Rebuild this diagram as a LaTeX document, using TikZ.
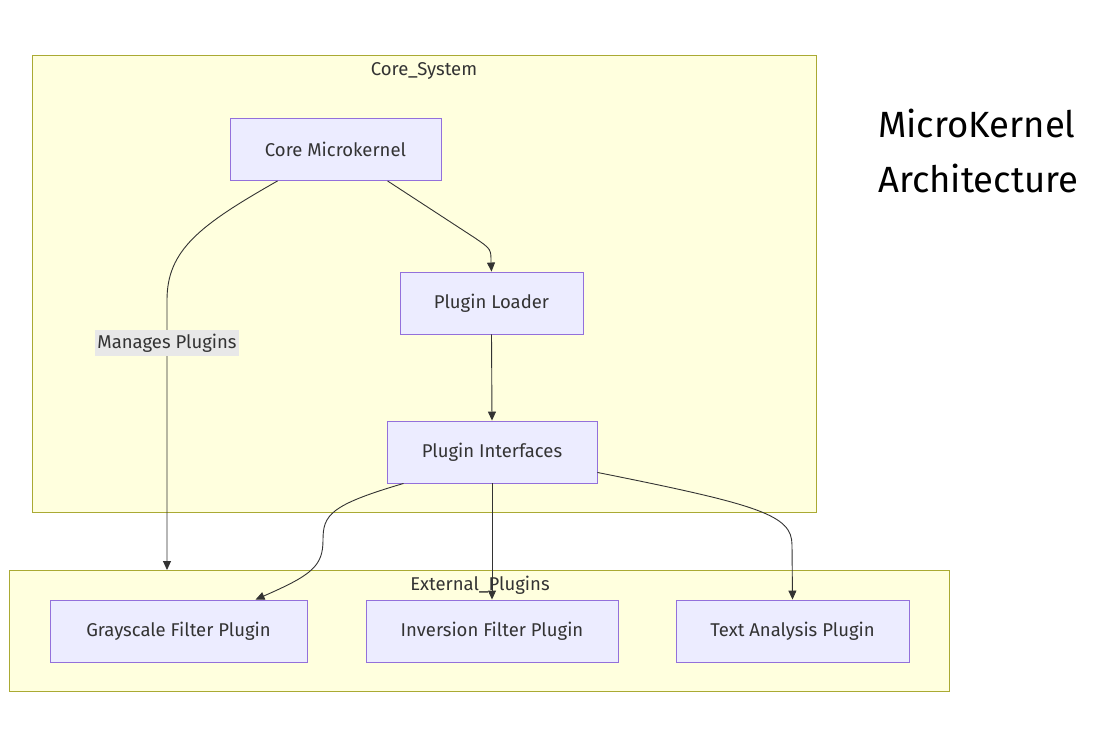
\documentclass[tikz,border=0pt]{standalone}
\usepackage{fontspec}
\setmainfont{Fira Sans}
\usetikzlibrary{arrows.meta,calc}
\definecolor{clfill}{HTML}{FFFFDE}
\definecolor{cldraw}{HTML}{AAAA33}
\definecolor{ndfill}{HTML}{ECECFF}
\definecolor{nddraw}{HTML}{9370DB}
\definecolor{edge}{HTML}{333333}
\definecolor{lblbg}{HTML}{E8E8E8}
\tikzset{
  cluster/.style={draw=cldraw, fill=clfill, line width=0.9pt},
  box/.style={draw=nddraw, fill=ndfill, line width=0.9pt, minimum height=62pt, inner sep=0pt, font=\fontsize{18.5}{21}\selectfont, text=edge},
  conn/.style={draw=edge, line width=0.9pt, -{Triangle[length=9pt,width=8pt]}},
  cltitle/.style={font=\fontsize{18.5}{21}\selectfont, text=edge},
}
\begin{document}
\begin{tikzpicture}[x=1pt,y=-1pt]
\useasboundingbox (0,0) rectangle (1116,747);
% clusters
\draw[cluster] (32,55) rectangle (816,512);
\node[cltitle] (cst) at (424,71) {Core\_System};
\draw[cluster] (9,570) rectangle (949,691);
\node[cltitle] (ept) at (480,585) {External\_Plugins};
\coordinate (extin) at (167,570);
% nodes
\node[box, minimum width=211pt] (cm) at (335.5,149.5) {Core Microkernel};
\node[box, minimum width=183pt] (pl) at (491.5,303) {Plugin Loader};
\node[box, minimum width=210pt] (pi) at (492,452) {Plugin Interfaces};
\node[box, minimum width=257pt] (gf) at (178.5,631) {Grayscale Filter Plugin};
\node[box, minimum width=252pt] (inv) at (492,631) {Inversion Filter Plugin};
\node[box, minimum width=233pt] (ta) at (792.5,631) {Text Analysis Plugin};
% title
\node[anchor=west, font=\fontsize{36.5}{55}\selectfont, align=left, inner sep=0pt] (title) at (878,151) {MicroKernel\\Architecture};
% edges
\draw[conn] ($(cm.south west)+(48,0)$) .. controls (200,225) and (167,250) .. (167,300)
  -- node[pos=0.16, fill=lblbg, inner xsep=2pt, inner ysep=4pt, font=\fontsize{18.5}{21}\selectfont, text=edge] (lbl) {Manages Plugins} (extin);
\draw[conn] ($(cm.south west)+(158,0)$) -- (475,238) .. controls (491,249) .. (491,262) -- (pl.north);
\draw[conn] (pl.south) -- (pi.north);
\draw[conn] ($(pi.south west)+(17,0)$) .. controls (330,505) and (323,515) .. (323,540) .. controls (323,566) and (312,575) .. ($(gf.north west)+(206,0)$);
\draw[conn] (pi.south) -- (inv.north);
\draw[conn] ($(pi.south east)+(0,-11)$) .. controls (760,505) and (792,515) .. (792,545) -- (ta.north);
\end{tikzpicture}
\end{document}
